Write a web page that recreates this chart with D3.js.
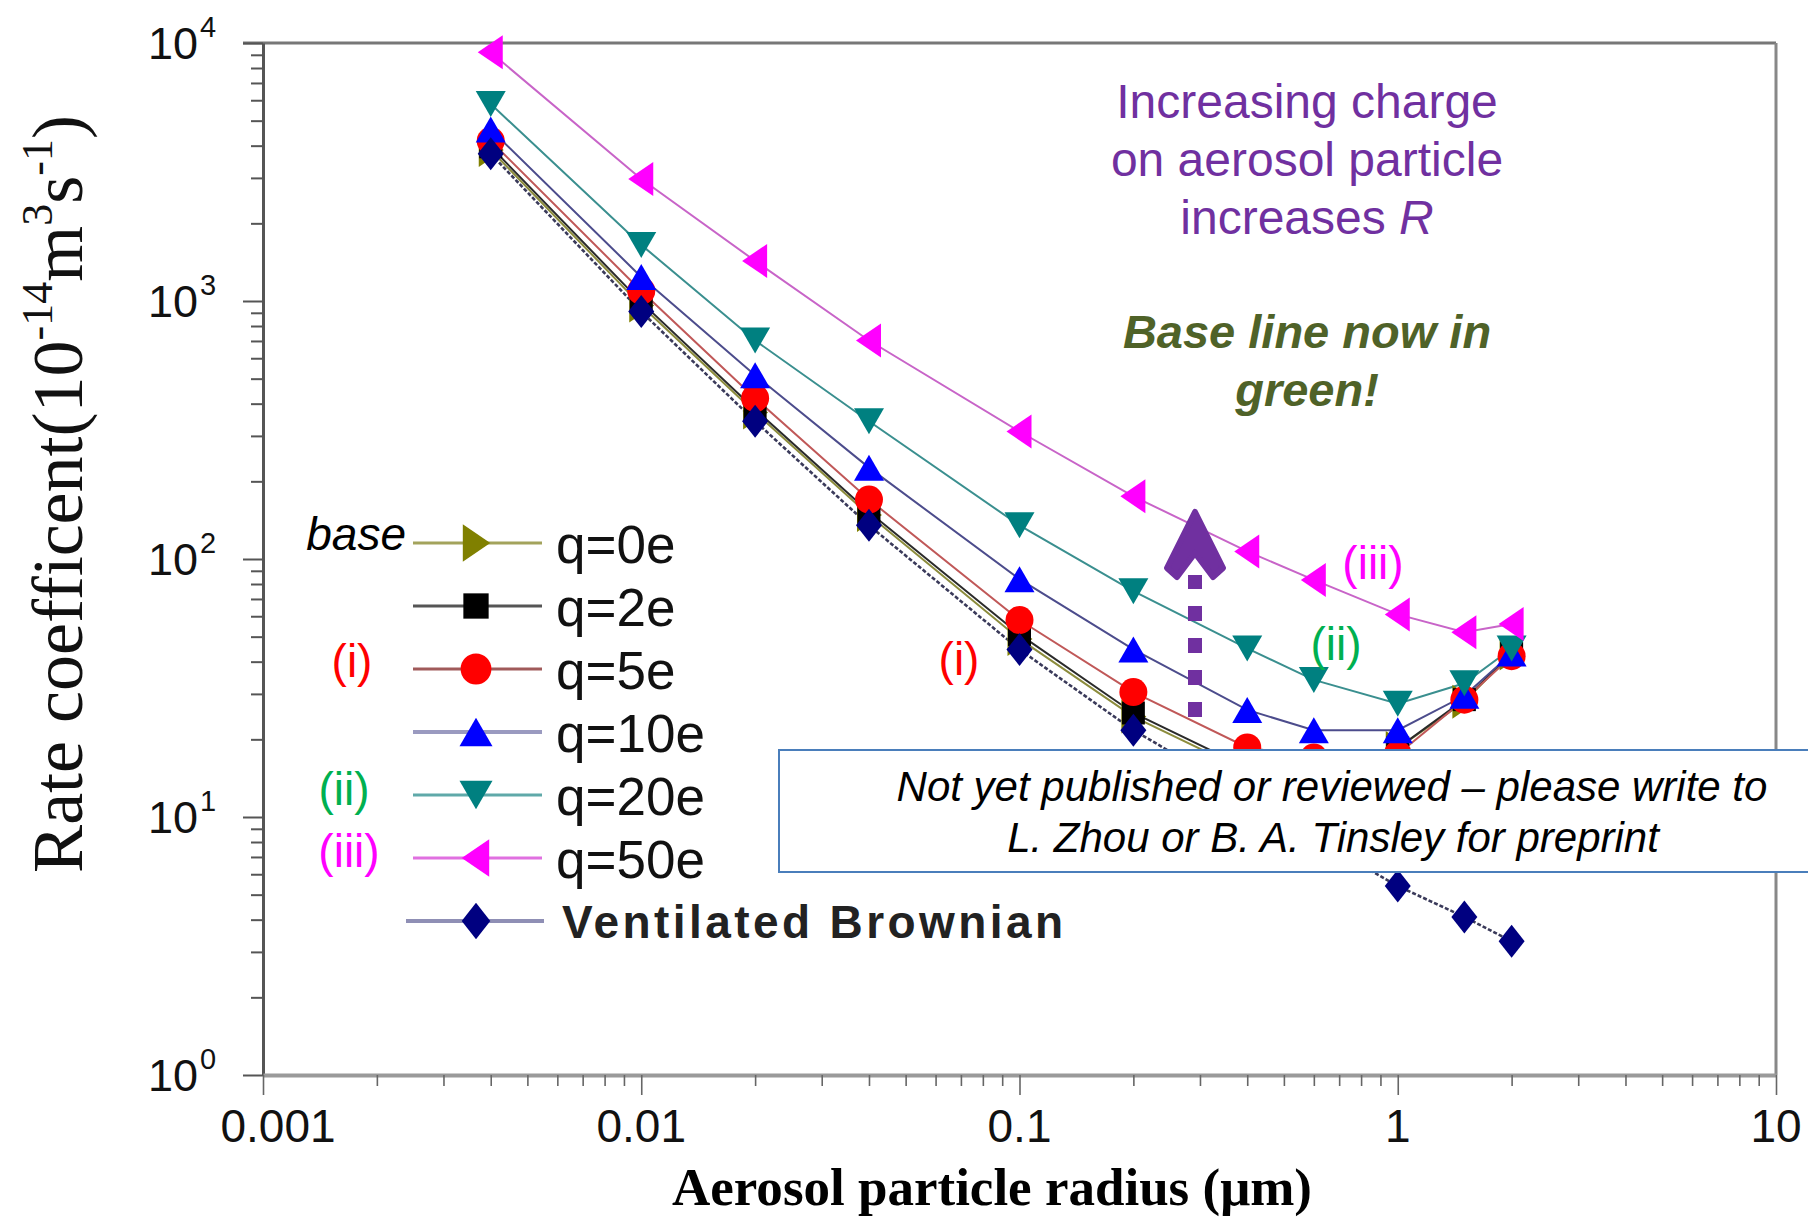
<!DOCTYPE html>
<html><head><meta charset="utf-8">
<script src="https://cdn.jsdelivr.net/npm/d3@7"></script>
<style>body{margin:0;background:#fff}svg{display:block}</style>
</head><body>
<svg id="c" width="1808" height="1217"></svg>
<script>
// ---------- data ----------
const radius = [0.004, 0.01, 0.02, 0.04, 0.1, 0.2, 0.4, 0.6, 1, 1.5, 2];
const q0e  = [3850, 960, 370, 148, 49, 24.5, 15, 12, 18.5, 28, 43];
const q2e  = [3960, 990, 380, 152, 51, 25.3, 15.5, 12.5, 18.5, 28.5, 43];
const q5e  = [4170, 1094, 420, 170, 58, 30.5, 18.6, 17, 17.5, 28.5, 42];
const q10e = [4620, 1240, 516, 226, 83.5, 44.6, 26, 21.7, 21.7, 29.5, 43];
const q20e = [5800, 1650, 703, 342, 135, 75, 45, 34, 27.5, 33, 45];
const q50e = [9200, 2970, 1430, 703, 312, 175, 107, 83, 61, 52, 56];
const ventBrownian = [3720, 910, 342, 135, 44.6, 21.7, 12, 8.3, 5.4, 4.1, 3.3];

const seriesNames = ["q=0e", "q=2e", "q=5e", "q=10e", "q=20e", "q=50e", "Ventilated Brownian"];
const seriesValues = [q0e, q2e, q5e, q10e, q20e, q50e, ventBrownian];
const markerTypes = ["right", "square", "circle", "up", "down", "left", "diamond"];
const markerColors = ["#808000", "#000000", "#ff0000", "#0000ff", "#008080", "#ff00ff", "#000080"];
const lineColors = ["#8c8c3c", "#2a2a2a", "#c05858", "#4c4c8c", "#3a8f8f", "#c864c8", "#3a3a5a"];
const legendLineColors = ["#a3a35c", "#555555", "#a05a5a", "#9a9ac0", "#5fa9a9", "#e070e0", "#8f8fb5"];

const xTickValues = [0.001, 0.01, 0.1, 1, 10];
const xTickLabels = ["0.001", "0.01", "0.1", "1", "10"];
const yTickValues = [1, 10, 100, 1000, 10000];
const yTickExps = ["0", "1", "2", "3", "4"];

// ---------- layout ----------
const L = 263, R = 1776, T = 43, B = 1075;
const svg = d3.select("#c");
const x = d3.scaleLog().domain([0.001, 10]).range([L, R]);
const y = d3.scaleLog().domain([1, 10000]).range([B, T]);
const SANS = "'Liberation Sans', Arial, sans-serif";
const SERIF = "'Liberation Serif', 'Times New Roman', serif";

const xMinor = x.ticks().filter(v => !xTickValues.some(t => Math.abs(t - v) / t < 1e-9));
const yMinor = y.ticks().filter(v => !yTickValues.some(t => Math.abs(t - v) / t < 1e-9));

// borders (top/right)
svg.append("line").attr("x1", L - 20).attr("x2", R).attr("y1", T).attr("y2", T)
  .attr("stroke", "#777").attr("stroke-width", 3);
svg.append("line").attr("x1", R).attr("x2", R).attr("y1", T).attr("y2", B)
  .attr("stroke", "#888").attr("stroke-width", 3);

// left axis
const gy = svg.append("g").attr("transform", `translate(${L},0)`);
gy.call(d3.axisLeft(y).tickValues(yTickValues).tickSize(20).tickSizeOuter(0).tickFormat(""));
gy.append("g").call(d3.axisLeft(y).tickValues(yMinor).tickSize(12).tickSizeOuter(0).tickFormat(""))
  .select(".domain").remove();
gy.selectAll(".domain").attr("stroke", "#555").attr("stroke-width", 3);
gy.selectAll(".tick line").attr("stroke", "#555").attr("stroke-width", 2);

// bottom axis
const gx = svg.append("g").attr("transform", `translate(0,${B})`);
gx.call(d3.axisBottom(x).tickValues(xTickValues).tickSize(20).tickSizeOuter(0).tickFormat(""));
gx.append("g").call(d3.axisBottom(x).tickValues(xMinor).tickSize(11).tickSizeOuter(0).tickFormat(""))
  .select(".domain").remove();
gx.selectAll(".domain").attr("stroke", "#9a9a9a").attr("stroke-width", 4);
gx.selectAll(".tick line").attr("stroke", "#666").attr("stroke-width", 1.6);

// tick labels
svg.append("g").selectAll("text").data(xTickValues).join("text")
  .attr("x", (d, i) => x(d) + (i === 0 ? 15 : 0))
  .attr("y", 1142)
  .attr("text-anchor", "middle")
  .attr("font-family", SANS).attr("font-size", 46).attr("fill", "#111")
  .text((d, i) => xTickLabels[i]);

svg.append("g").selectAll("text").data(yTickValues).join("text")
  .attr("x", 198).attr("y", d => y(d) + 16)
  .attr("text-anchor", "end")
  .attr("font-family", SANS).attr("font-size", 45).attr("fill", "#111")
  .text("10");
svg.append("g").selectAll("text").data(yTickValues).join("text")
  .attr("x", 200).attr("y", (d) => y(d) - 6)
  .attr("font-family", SANS).attr("font-size", 29).attr("fill", "#111")
  .text((d, i) => yTickExps[i]);

// axis titles
svg.append("text")
  .attr("x", 992).attr("y", 1205).attr("text-anchor", "middle")
  .attr("font-family", SERIF).attr("font-weight", "bold").attr("font-size", 52)
  .attr("textLength", 640).attr("lengthAdjust", "spacingAndGlyphs")
  .text("Aerosol particle radius (\u03bcm)");

const yt = svg.append("text")
  .attr("transform", "translate(82,494) rotate(-90)")
  .attr("text-anchor", "middle")
  .attr("font-family", SERIF).attr("font-size", 72).attr("fill", "#111");
yt.append("tspan").text("Rate coefficent(10");
yt.append("tspan").attr("font-size", 44).attr("dy", -30).text("-14");
yt.append("tspan").attr("dy", 30).text("m");
yt.append("tspan").attr("font-size", 44).attr("dy", -30).text("3");
yt.append("tspan").attr("dy", 30).text("s");
yt.append("tspan").attr("font-size", 44).attr("dy", -30).text("-1");
yt.append("tspan").attr("dy", 30).text(")");

// ---------- markers ----------
function markerPath(type, k) {
  const p = d3.path();
  const w = 15 * k, h = 13 * k;
  switch (type) {
    case "up": p.moveTo(0, -h); p.lineTo(w, h); p.lineTo(-w, h); p.closePath(); break;
    case "down": p.moveTo(0, h); p.lineTo(w, -h); p.lineTo(-w, -h); p.closePath(); break;
    case "left": p.moveTo(-13 * k, 0); p.lineTo(12 * k, -17 * k); p.lineTo(12 * k, 17 * k); p.closePath(); break;
    case "right": p.moveTo(13 * k, 0); p.lineTo(-12 * k, -17 * k); p.lineTo(-12 * k, 17 * k); p.closePath(); break;
    case "square": p.rect(-11.5 * k, -11.5 * k, 23 * k, 23 * k); break;
    case "circle": p.arc(0, 0, 14 * k, 0, 2 * Math.PI); break;
    case "diamond": p.moveTo(0, -16.5 * k); p.lineTo(13 * k, 0); p.lineTo(0, 16.5 * k); p.lineTo(-13 * k, 0); p.closePath(); break;
  }
  return p.toString();
}

// ---------- series ----------
const line = d3.line().x((d, i) => x(radius[i])).y(d => y(d));
const plot = svg.append("g");
seriesValues.forEach((vals, s) => {
  plot.append("path").attr("d", line(vals)).attr("fill", "none")
    .attr("stroke", lineColors[s]).attr("stroke-width", s === 6 ? 2.6 : 2)
    .attr("stroke-dasharray", s === 6 ? "4,2" : null);
});
seriesValues.forEach((vals, s) => {
  plot.append("g").selectAll("path").data(vals).join("path")
    .attr("transform", (d, i) => `translate(${x(radius[i])},${y(d)})`)
    .attr("d", markerPath(markerTypes[s], 1))
    .attr("fill", markerColors[s]);
});

// ---------- legend ----------
const legY = i => 543 + i * 63;
const leg = svg.append("g");
seriesNames.forEach((name, i) => {
  const yy = legY(i);
  const isVB = i === 6;
  leg.append("line").attr("x1", isVB ? 406 : 413).attr("x2", isVB ? 544 : 542)
    .attr("y1", yy).attr("y2", yy)
    .attr("stroke", legendLineColors[i]).attr("stroke-width", (i === 3 || isVB) ? 4 : 3);
  leg.append("path").attr("transform", `translate(476,${yy})`)
    .attr("d", markerPath(markerTypes[i], 1.1)).attr("fill", markerColors[i]);
  const t = leg.append("text").attr("x", isVB ? 562 : 556).attr("y", yy + (isVB ? 17 : 20))
    .attr("font-family", SANS).attr("fill", "#111")
    .attr("font-size", isVB ? 46 : 53)
    .attr("font-weight", isVB ? "bold" : "normal")
    .text(name);
  if (isVB) t.attr("textLength", 501).attr("lengthAdjust", "spacing").attr("fill", "#222");
});
leg.append("text").attr("x", 406).attr("y", 550).attr("text-anchor", "end")
  .attr("font-family", SANS).attr("font-style", "italic").attr("font-size", 46).text("base");

// ---------- roman numeral annotations ----------
const romans = [
  {t: "(i)", x: 352, y: 677, c: "#ff0000"},
  {t: "(ii)", x: 344, y: 805, c: "#00b050"},
  {t: "(iii)", x: 349, y: 867, c: "#ff00ff"},
  {t: "(i)", x: 959, y: 675, c: "#ff0000"},
  {t: "(ii)", x: 1336, y: 660, c: "#00b050"},
  {t: "(iii)", x: 1373, y: 579, c: "#ff00ff"}
];
svg.append("g").selectAll("text").data(romans).join("text")
  .attr("x", d => d.x).attr("y", d => d.y).attr("text-anchor", "middle")
  .attr("font-family", SANS).attr("font-size", 46).attr("fill", d => d.c).text(d => d.t);

// ---------- purple arrow ----------
const arrowX = 1195;
svg.append("line").attr("x1", arrowX).attr("x2", arrowX).attr("y1", 717).attr("y2", 575)
  .attr("stroke", "#7030a0").attr("stroke-width", 14).attr("stroke-dasharray", "15,17");
svg.append("path")
  .attr("d", `M${arrowX},512 L${arrowX + 28},568 L${arrowX + 18},577 L${arrowX},553 L${arrowX - 18},577 L${arrowX - 28},568 Z`)
  .attr("fill", "#7030a0").attr("stroke", "#7030a0").attr("stroke-width", 6).attr("stroke-linejoin", "round");

// ---------- text annotations ----------
const purple = svg.append("text").attr("text-anchor", "middle")
  .attr("font-family", SANS).attr("font-size", 48).attr("fill", "#7030a0");
purple.append("tspan").attr("x", 1307).attr("y", 118).text("Increasing charge");
purple.append("tspan").attr("x", 1307).attr("y", 176).text("on aerosol particle");
const l3 = purple.append("tspan").attr("x", 1307).attr("y", 234);
l3.append("tspan").text("increases ");
l3.append("tspan").attr("font-style", "italic").text("R");

const green = svg.append("text").attr("text-anchor", "middle")
  .attr("font-family", SANS).attr("font-size", 47).attr("font-weight", "bold")
  .attr("font-style", "italic").attr("fill", "#4f6228");
green.append("tspan").attr("x", 1307).attr("y", 348).text("Base line now in");
green.append("tspan").attr("x", 1307).attr("y", 406).text("green!");

// ---------- notice box ----------
svg.append("rect").attr("x", 779).attr("y", 750).attr("width", 1100).attr("height", 122)
  .attr("fill", "#fff").attr("stroke", "#4a7ebb").attr("stroke-width", 2);
const note = svg.append("text").attr("text-anchor", "middle")
  .attr("font-family", SANS).attr("font-style", "italic").attr("font-size", 42).attr("fill", "#000");
note.append("tspan").attr("x", 1332).attr("y", 801).text("Not yet published or reviewed \u2013 please write to");
note.append("tspan").attr("x", 1333).attr("y", 852).text("L. Zhou or B. A. Tinsley for preprint");
</script>
</body></html>
